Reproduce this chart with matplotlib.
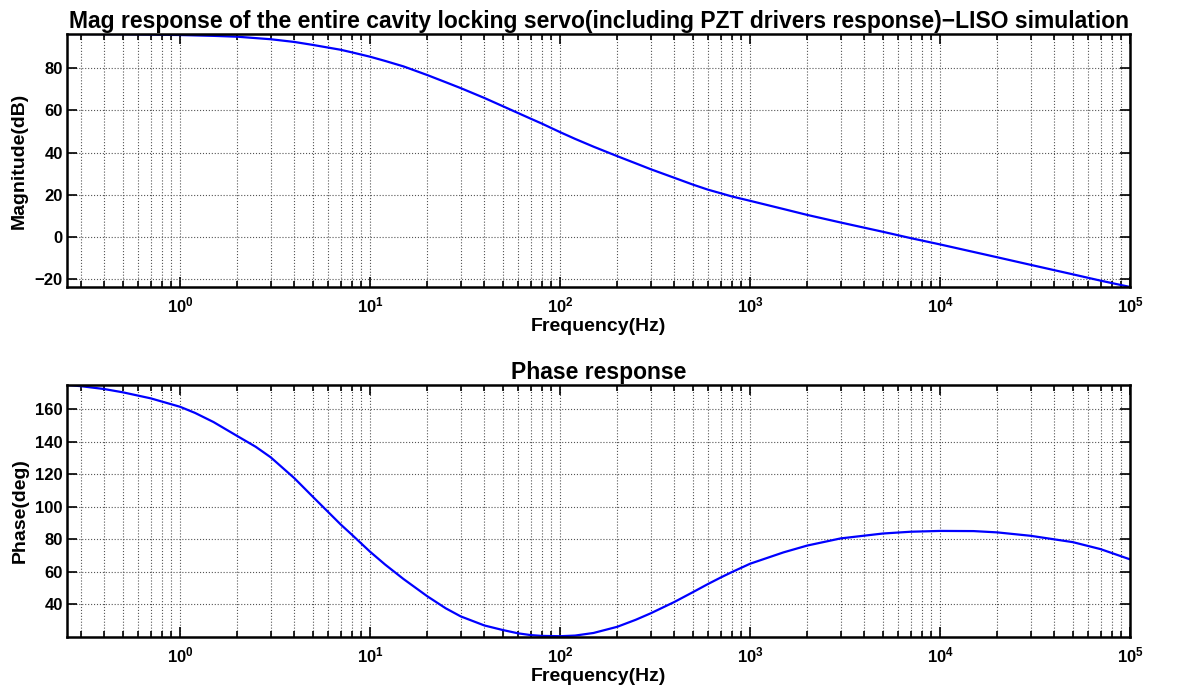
import numpy as np
import matplotlib
matplotlib.use("Agg")
import matplotlib.pyplot as plt
from matplotlib.ticker import LogLocator, FixedLocator, NullFormatter

plt.rcParams['font.family'] = ['Liberation Sans', 'DejaVu Sans']
plt.rcParams['font.weight'] = 'bold'
plt.rcParams['mathtext.fontset'] = 'custom'
plt.rcParams['mathtext.rm'] = 'Liberation Sans:bold'
plt.rcParams['mathtext.bf'] = 'Liberation Sans:bold'
plt.rcParams['mathtext.default'] = 'bf'

# values (frequency in Hz)
mag_freq = [0.254, 0.3, 0.5, 0.7, 1, 1.5, 2, 3, 4, 5, 7, 8, 10, 12, 15, 20, 25,
            30, 40, 50, 60, 70, 80, 100, 120, 150, 200, 250, 300, 400, 500, 600,
            700, 800, 1000, 1500, 2000, 3000, 5000, 7000, 1e4, 2e4, 3e4, 5e4,
            7e4, 1e5]
mag_db = [96.3, 96.3, 96.2, 96.0, 95.8, 95.4, 95.0, 93.8, 92.5, 91.1, 88.8, 87.6,
          85.5, 83.5, 80.9, 76.8, 73.4, 70.6, 65.9, 62.0, 58.8, 56.1, 53.8, 49.7,
          46.5, 42.8, 38.3, 34.9, 32.1, 28.0, 24.8, 22.4, 20.7, 19.2, 17.1, 13.2,
          10.4, 6.8, 2.4, -0.6, -3.6, -9.7, -13.3, -17.8, -20.8, -23.8]

ph_freq = [0.254, 0.3, 0.4, 0.5, 0.7, 1, 1.2, 1.5, 2, 2.5, 3, 4, 5, 6, 7, 8, 10,
           12, 15, 20, 25, 30, 40, 50, 60, 70, 80, 100, 120, 150, 200, 250, 300,
           400, 500, 600, 700, 800, 1000, 1500, 2000, 3000, 5000, 7000, 1e4,
           1.5e4, 2e4, 3e4, 5e4, 7e4, 1e5]
ph_deg = [175.0, 174.3, 172.5, 170.5, 166.8, 161.6, 157.8, 152.2, 143.6, 137.0,
          130.5, 117.6, 106.2, 97.0, 89.2, 83.0, 72.4, 64.5, 55.6, 45.0, 37.6,
          32.6, 27.0, 24.2, 22.2, 21.1, 20.6, 20.4, 20.8, 22.4, 26.2, 30.5, 34.5,
          41.5, 47.5, 52.5, 56.5, 59.8, 65.0, 72.0, 76.2, 80.6, 83.6, 84.7, 85.2,
          85.1, 84.3, 82.2, 78.3, 74.0, 67.7]

mag_yticks = [-20, 0, 20, 40, 60, 80]
ph_yticks = [40, 60, 80, 100, 120, 140, 160]
xtick_pos = [1, 10, 100, 1000, 10000, 100000]
xtick_lab = [r'$10^{0}$', r'$10^{1}$', r'$10^{2}$', r'$10^{3}$', r'$10^{4}$', r'$10^{5}$']

fig = plt.figure(figsize=(11.86, 6.89), dpi=100)
ax1 = fig.add_axes([0.0565, 0.5835, 0.8963, 0.3672])
ax2 = fig.add_axes([0.0565, 0.0759, 0.8963, 0.3653])


def style(ax, yticks, ylim, ylabel, title):
    ax.set_xscale('log')
    ax.set_xlim(0.254, 1e5)
    ax.set_ylim(ylim)
    ax.xaxis.set_major_locator(FixedLocator(xtick_pos))
    ax.set_xticklabels(xtick_lab)
    ax.xaxis.set_minor_locator(LogLocator(base=10, subs=np.arange(2, 10), numticks=20))
    ax.xaxis.set_minor_formatter(NullFormatter())
    ax.set_yticks(yticks)
    ax.tick_params(which='both', direction='in', top=True, right=True,
                   labelsize=12, width=1.2)
    ax.tick_params(which='major', length=7)
    ax.tick_params(which='minor', length=4)
    ax.tick_params(axis='x', which='major', pad=6)
    ax.tick_params(axis='y', which='major', pad=3)
    ax.grid(True, which='major', linestyle=':', color='#555555', linewidth=0.8)
    ax.grid(True, which='minor', axis='x', linestyle=':', color='#555555', linewidth=0.8)
    for s in ax.spines.values():
        s.set_linewidth(1.8)
    ax.set_xlabel('Frequency(Hz)', fontsize=14, fontweight='bold', labelpad=2)
    ax.set_ylabel(ylabel, fontsize=14, fontweight='bold', labelpad=5)
    ax.set_title(title, fontsize=16.5, fontweight='bold', pad=4)


ax1.plot(mag_freq, mag_db, color='#0000ff', linewidth=1.6)
style(ax1, mag_yticks, (-23.8, 96.3), 'Magnitude(dB)',
      'Mag response of the entire cavity locking servo(including PZT drivers response)\u2212LISO simulation')

ax2.plot(ph_freq, ph_deg, color='#0000ff', linewidth=1.6)
style(ax2, ph_yticks, (20.1, 175.0), 'Phase(deg)', 'Phase response')

fig.savefig('out.png', dpi=100)
